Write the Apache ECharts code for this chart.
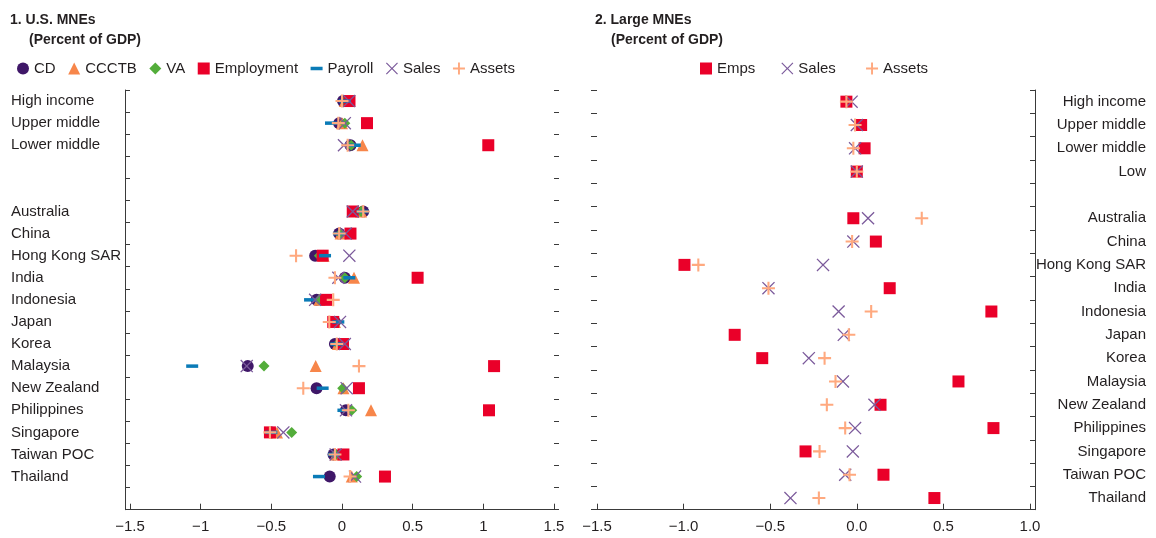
<!DOCTYPE html>
<html>
<head>
<meta charset="utf-8">
<script src="https://cdn.jsdelivr.net/npm/echarts@6/dist/echarts.min.js"></script>
<style>
html,body{margin:0;padding:0;background:#fff;}
#chart{width:1156px;height:538px;}
</style>
</head>
<body>
<div id="chart"></div>
<script>
// ---------- DATA ----------
const leftCategories = ['High income','Upper middle','Lower middle',' ','  ','Australia','China','Hong Kong SAR','India','Indonesia','Japan','Korea','Malaysia','New Zealand','Philippines','Singapore','Taiwan POC','Thailand','   '];
const cdVals         = [0.007, -0.02, 0.06, null, null, 0.15, -0.02, -0.19, 0.02, -0.18, -0.05, -0.05, -0.667, -0.18, 0.028, -0.5, -0.06, -0.087, null];
const ccctbVals      = [0.02, 0.0, 0.145, null, null, 0.135, -0.01, -0.13, 0.085, -0.16, -0.05, -0.03, -0.186, 0.01, 0.205, -0.46, -0.045, 0.069, null];
const vaVals         = [0.02, 0.02, 0.065, null, null, 0.135, -0.01, -0.16, 0.02, -0.16, -0.04, -0.03, -0.552, 0.005, 0.069, -0.356, -0.045, 0.104, null];
const employmentVals = [0.053, 0.177, 1.035, null, null, 0.076, 0.06, -0.137, 0.535, -0.113, -0.062, 0.007, 1.076, 0.12, 1.04, -0.51, 0.01, 0.304, null];
const payrollVals    = [0.02, -0.078, 0.09, null, null, 0.145, -0.02, -0.12, 0.052, -0.226, -0.026, -0.04, -1.06, -0.137, 0.01, -0.5, -0.057, -0.163, null];
const salesVals      = [0.05, 0.02, 0.014, null, null, 0.076, 0.026, 0.052, -0.026, -0.19, -0.014, 0.02, -0.674, 0.033, 0.028, -0.415, -0.045, 0.092, null];
const assetsVals     = [0.0, -0.026, 0.04, null, null, 0.15, -0.02, -0.325, -0.05, -0.062, -0.09, -0.037, 0.12, -0.274, 0.045, -0.51, -0.05, 0.057, null];

const rightCategories = ['High income','Upper middle','Lower middle','Low',' ','Australia','China','Hong Kong SAR','India','Indonesia','Japan','Korea','Malaysia','New Zealand','Philippines','Singapore','Taiwan POC','Thailand'];
const empsLarge   = [-0.06, 0.025, 0.045, 0.0, null, -0.02, 0.11, -0.995, 0.19, 0.777, -0.705, -0.546, 0.587, 0.137, 0.789, -0.296, 0.154, 0.448];
const salesLarge  = [-0.03, 0.0, -0.01, 0.0, null, 0.065, -0.02, -0.195, -0.51, -0.105, -0.075, -0.277, -0.08, 0.102, -0.01, -0.023, -0.067, -0.383];
const assetsLarge = [-0.06, -0.01, -0.02, 0.0, null, 0.375, -0.027, -0.915, -0.51, 0.083, -0.046, -0.186, -0.123, -0.173, -0.067, -0.215, -0.042, -0.219];

const leftTicks = [-1.5, 1.5, 0.5];   // min, max, interval
const rightTicks = [-1.5, 1.0, 0.5];

// ---------- STYLE ----------
const FONT = "'Liberation Sans Narrow','Arial Narrow','Liberation Sans',Arial,sans-serif";
const TXT = '#231f20';
const AX = '#3a3a3a';
const C = {cd:'#3f1768', ccctb:'#f7864a', va:'#53ad3a', emp:'#ea0029', pay:'#0a7bb7', sales:'#7b5a9b', assets:'#ffa97f'};
const PLUS = 'path://M8.4,0H11.6V8.4H20V11.6H11.6V20H8.4V11.6H0V8.4H8.4Z';
const XSYM = 'path://M0,1.4L1.4,0L10,8.6L18.6,0L20,1.4L11.4,10L20,18.6L18.6,20L10,11.4L1.4,20L0,18.6L8.6,10Z';
const DASH = 'path://M0,0H12V3.5H0Z';

function pts(vals){ const out=[]; vals.forEach((v,i)=>{ if(v!==null) out.push([v,i]); }); return out; }
function minusFmt(dec){ return function(v){ const a=Math.abs(v); const s = dec? a.toFixed(dec) : String(+a.toFixed(2)); return (v< -1e-9?'\u2212':'')+s; }; }

function sc(name, vals, sym, size, color, xi, yi){
  return {name:name, type:'scatter', xAxisIndex:xi, yAxisIndex:yi, symbol:sym, symbolSize:size,
    itemStyle:{color:color, opacity:1}, data:pts(vals), silent:true, animation:false};
}

const chart = echarts.init(document.getElementById('chart'), null, {renderer:'canvas'});
const txt = {fontFamily:FONT, fontSize:15, color:TXT};
const ttl = {fontFamily:FONT, fontSize:14, fontWeight:'bold', color:TXT};

const option = {
  animation:false,
  title:[
    {text:'1. U.S. MNEs', left:5, top:8, textStyle:ttl},
    {text:'(Percent of GDP)', left:24, top:28, textStyle:ttl},
    {text:'2. Large MNEs', left:590, top:8, textStyle:ttl},
    {text:'(Percent of GDP)', left:606, top:28, textStyle:ttl}
  ],
  legend:[
    {left:12, top:56, itemWidth:12, itemHeight:12, itemGap:12.5, selectedMode:false, textStyle:txt,
     data:[{name:'CD'},{name:'CCCTB'},{name:'VA'},{name:'Employment'},{name:'Payroll', icon:DASH},{name:'Sales'},{name:'Assets'}]},
    {left:695, top:56, itemWidth:12, itemHeight:12, itemGap:26, selectedMode:false, textStyle:txt,
     data:[{name:'Emps'},{name:'Sales '},{name:'Assets '}]}
  ],
  grid:[
    {left:130, right:1156-554, top:90, bottom:28.3},
    {left:597, right:1156-1030, top:90, bottom:28.3}
  ],
  xAxis:[
    {gridIndex:0, type:'value', min:leftTicks[0], max:leftTicks[1], interval:leftTicks[2], splitLine:{show:false},
     axisLine:{show:true, onZero:false, lineStyle:{color:AX, width:1}}, axisTick:{show:true, inside:true, length:6, lineStyle:{color:AX}},
     axisLabel:Object.assign({margin:10, formatter:minusFmt(0)}, txt)},
    {gridIndex:1, type:'value', min:rightTicks[0], max:rightTicks[1], interval:rightTicks[2], splitLine:{show:false},
     axisLine:{show:true, onZero:false, lineStyle:{color:AX, width:1}}, axisTick:{show:true, inside:true, length:6, lineStyle:{color:AX}},
     axisLabel:Object.assign({margin:10, formatter:minusFmt(1)}, txt)}
  ],
  yAxis:[
    {gridIndex:0, type:'category', data:leftCategories, inverse:true, position:'left', offset:5,
     axisLine:{show:true, onZero:false, lineStyle:{color:AX}}, axisTick:{show:true, inside:true, length:5, lineStyle:{color:AX}},
     axisLabel:Object.assign({align:'left', margin:114, interval:0}, txt), splitLine:{show:false}},
    {gridIndex:0, type:'category', data:leftCategories, inverse:true, position:'right',
     axisLine:{show:false, onZero:false}, axisTick:{show:true, inside:false, length:5, lineStyle:{color:AX}},
     axisLabel:{show:false}, splitLine:{show:false}},
    {gridIndex:1, type:'category', data:rightCategories, inverse:true, position:'left',
     axisLine:{show:false, onZero:false}, axisTick:{show:true, inside:false, length:6, lineStyle:{color:AX}},
     axisLabel:{show:false}, splitLine:{show:false}},
    {gridIndex:1, type:'category', data:rightCategories, inverse:true, position:'right', offset:5,
     axisLine:{show:true, onZero:false, lineStyle:{color:AX}}, axisTick:{show:true, inside:true, length:5, lineStyle:{color:AX}},
     axisLabel:Object.assign({align:'right', margin:111, interval:0}, txt), splitLine:{show:false}}
  ],
  series:[
    sc('CD', cdVals, 'circle', 12, C.cd, 0, 0),
    sc('CCCTB', ccctbVals, 'triangle', 12, C.ccctb, 0, 0),
    sc('VA', vaVals, 'diamond', 11, C.va, 0, 0),
    sc('Employment', employmentVals, 'rect', 12, C.emp, 0, 0),
    sc('Payroll', payrollVals, DASH, [12,3.5], C.pay, 0, 0),
    sc('Sales', salesVals, XSYM, 13, C.sales, 0, 0),
    sc('Assets', assetsVals, PLUS, 13, C.assets, 0, 0),
    sc('Emps', empsLarge, 'rect', 12, C.emp, 1, 2),
    sc('Sales ', salesLarge, XSYM, 13, C.sales, 1, 2),
    sc('Assets ', assetsLarge, PLUS, 13, C.assets, 1, 2)
  ]
};
chart.setOption(option);
</script>
</body>
</html>
